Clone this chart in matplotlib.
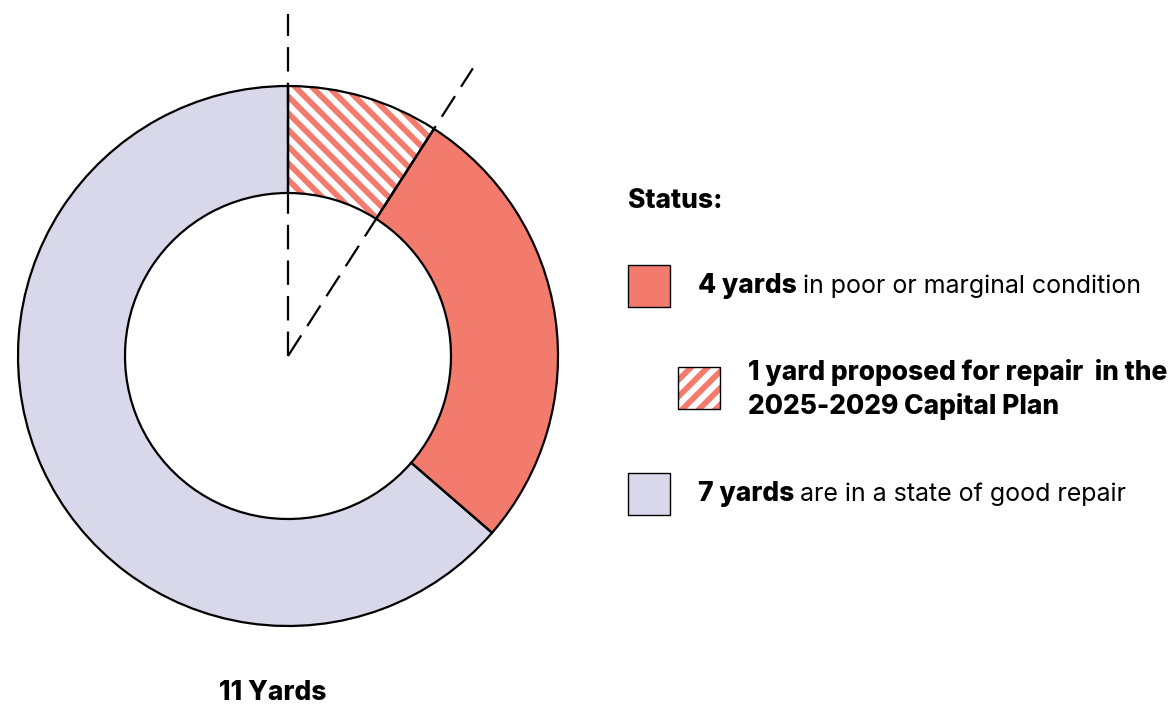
import numpy as np
import matplotlib
matplotlib.use("Agg")
import matplotlib.pyplot as plt
from matplotlib.patches import Rectangle, Wedge

plt.rcParams['font.family'] = ['Inter', 'DejaVu Sans']
plt.rcParams['hatch.linewidth'] = 4.3

# data
labels = ["1 yard proposed for repair", "other poor or marginal", "good repair"]
values = [1, 3, 7]
total_label = "11 Yards"
salmon = "#F27B6D"
lavender = "#D8D8EA"
colors = [salmon, salmon, lavender]

W, H = 1176, 707
fig = plt.figure(figsize=(W / 100, H / 100), dpi=100)
ax = fig.add_axes([0, 0, 1, 1])

def Y(y):
    return H - y

cx, cy = 288, Y(356)
r_out, r_in = 270, 163
BOLD = 19
REG = 18

# donut: fill first (hatch in white), then black outlines
wedges, _ = ax.pie(values, radius=r_out, center=(cx, cy), startangle=90,
                   counterclock=False, colors=colors,
                   wedgeprops=dict(width=r_out - r_in, linewidth=0, edgecolor='white'),
                   frame=True)
wedges[0].set_hatch('\\\\')
ax.set_xlim(0, W)
ax.set_ylim(0, H)
ax.set_aspect('equal')
ax.axis('off')
for w in wedges:
    ax.add_patch(Wedge(w.center, w.r, w.theta1, w.theta2, width=w.width,
                       facecolor='none', edgecolor='black', linewidth=1.6, zorder=3))

# dashed guide lines around the proposed slice
L = 342
for frac in [0, values[0] / sum(values)]:
    ang = np.deg2rad(90 - 360 * frac)
    ax.plot([cx, cx + L * np.cos(ang)], [cy, cy + L * np.sin(ang)], color='black',
            lw=1.6, dashes=(11, 5), zorder=4)

ax.text(273, Y(693), total_label, ha='center', va='center', fontsize=BOLD,
        fontweight='heavy', color='black')

# legend
ax.text(628, Y(201), "Status:", ha='left', va='center', fontsize=BOLD,
        fontweight='heavy')

fig.canvas.draw()
renderer = fig.canvas.get_renderer()

def mixed(x, y, bold, rest):
    t = ax.text(x, Y(y), bold, ha='left', va='center', fontsize=BOLD, fontweight='heavy')
    bb = t.get_window_extent(renderer)
    x1 = ax.transData.inverted().transform((bb.x1, 0))[0]
    ax.text(x1 + 6, Y(y), rest, ha='left', va='center', fontsize=REG)

ax.add_patch(Rectangle((628, Y(307)), 42, 42, facecolor=salmon, edgecolor='black', lw=1))
mixed(698, 286, "4 yards", "in poor or marginal condition")

ax.add_patch(Rectangle((678, Y(409)), 42, 42, facecolor=salmon, edgecolor='white',
                       hatch='//', lw=0))
ax.add_patch(Rectangle((678, Y(409)), 42, 42, facecolor='none', edgecolor='black', lw=1))
ax.text(748, Y(372), "1 yard proposed for repair  in the", ha='left', va='center',
        fontsize=BOLD, fontweight='heavy')
ax.text(748, Y(407), "2025-2029 Capital Plan", ha='left', va='center',
        fontsize=BOLD, fontweight='heavy')

ax.add_patch(Rectangle((628, Y(515)), 42, 42, facecolor=lavender, edgecolor='black', lw=1))
mixed(698, 494, "7 yards", "are in a state of good repair")

fig.savefig("out.png", dpi=100, facecolor='white')
